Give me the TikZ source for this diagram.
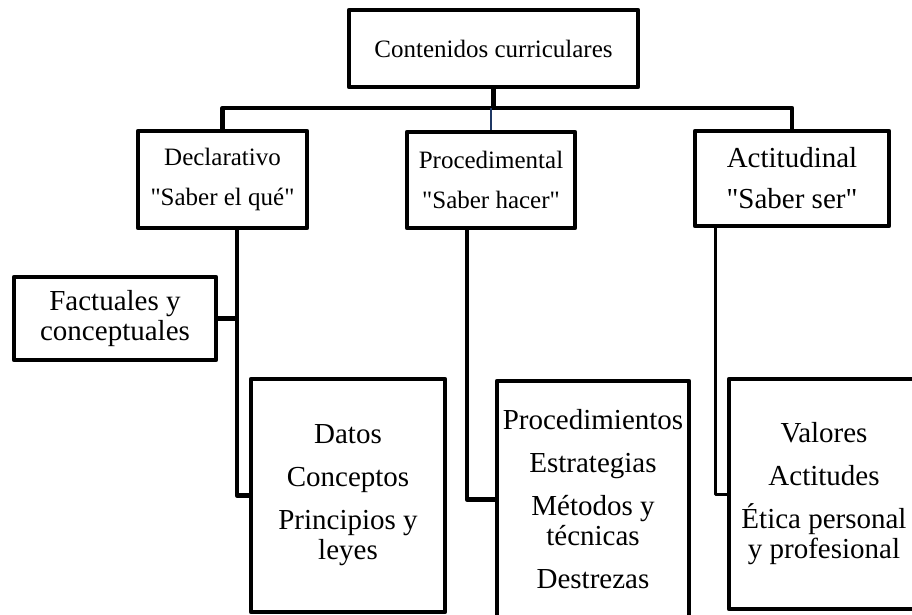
\documentclass[tikz,border=0pt]{standalone}
\usepackage{fontspec}
\setmainfont{Liberation Serif}
\usetikzlibrary{positioning}

\newcommand{\midfont}{\fontsize{25}{30}\selectfont}
\newcommand{\lowfont}{\fontsize{29}{30}\selectfont}
\newcommand{\qq}{\textquotedbl}

\tikzset{
    box/.style={draw, line width=4.5pt, line join=round, align=center, inner sep=0pt},
    link/.style={line width=4.5pt, line join=round},
    thinlink/.style={line width=2.5pt, draw={rgb,255:red,31;green,56;blue,100}},
}

\begin{document}
\begin{tikzpicture}[x=1pt, y=-1pt]
    \useasboundingbox (0,0) rectangle (912,615);
    \clip (0,0) rectangle (912,615);

    % Top box
    \node[box, font=\midfont, minimum width=289pt, minimum height=77pt] (cont) at (493.5,48.5) {Contenidos curriculares};

    % The three kinds of content
    \node[box, font=\midfont, minimum width=169pt, minimum height=97pt] (decl) at (222.5,179.5) {Declarativo\\[10pt]\qq Saber el qué\qq};
    \node[box, font=\midfont, minimum width=168pt, minimum height=96pt] (proc) at (491,180) {Procedimental\\[10pt]\qq Saber hacer\qq};
    \node[box, font=\lowfont, minimum width=194pt, minimum height=95pt] (acti) at (792,178.5) {Actitudinal\\[11pt]\qq Saber ser\qq};

    % Lower boxes
    \node[box, font=\lowfont, minimum width=202pt, minimum height=83pt] (fact) at (115,318.5) {Factuales y\\conceptuales};
    \node[box, font=\lowfont, minimum width=194pt, minimum height=233pt] (datos) at (348,495.5) {Datos\\[13pt]Conceptos\\[13pt]Principios y\\leyes};
    \node[box, font=\lowfont, minimum width=192pt, minimum height=237pt] (procs) at (593,499.5) {Procedimientos\\[13pt]Estrategias\\[13pt]Métodos y\\técnicas\\[13pt]Destrezas};
    \node[box, font=\lowfont, minimum width=190pt, minimum height=230pt] (valores) at (824,494) {Valores\\[13pt]Actitudes\\[13pt]Ética personal\\y profesional};

    % Connectors
    \coordinate (bar) at (0,108);
    \draw[link] (cont.south) -- (cont.south |- bar);
    \draw[link] (decl.north) -- (decl.north |- bar) -| (acti.north);
    \draw[thinlink] (proc.north |- bar) -- (proc.north);
    \draw[link] ([xshift=14.5pt]decl.south) |- (datos.west);
    \draw[link] (fact.east) -- ++(19,0);
    \draw[link] ([xshift=-24pt]proc.south) |- (procs.west);
    \draw[link, line width=3pt] ([xshift=-77pt]acti.south) |- (valores.west);
\end{tikzpicture}
\end{document}
